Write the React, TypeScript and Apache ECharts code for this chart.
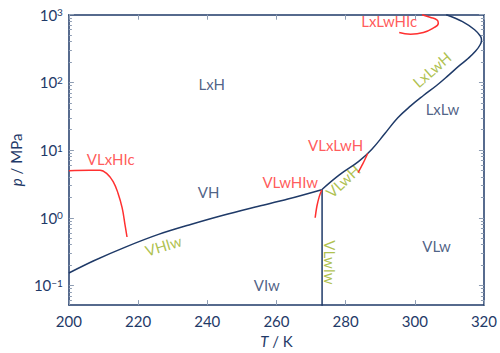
import React, { useEffect, useRef } from 'react';
import * as echarts from 'echarts';

const NAVY = '#1f3a68';
const RED = '#ff3030';
const GREEN = '#9ab11e';
const TICK = '#8e9db3';
const FONT = 'Lato, "Open Sans", sans-serif';

// axis structure
const xMin = 200;
const xMax = 320;
const xStep = 20;
const yDecades = [-1, 0, 1, 2, 3];
const yMinLog = -1.29;
const yMaxLog = 3;

// V-H-Iw (navy)
const vhiwT = [200, 207.2, 216.5, 225.9, 235.2, 244.6, 253.9, 263.3, 273.1];
const vhiwP = [0.153, 0.232, 0.372, 0.568, 0.796, 1.09, 1.44, 1.89, 2.6];

// V-Lw-H / Lx-Lw-H (navy)
const vlwhT = [273.1, 278.2, 283.8, 287.6, 291.3, 295.1, 298.8, 302.5, 306.3, 309.8, 312.8, 315.4, 317.6, 318.9, 319.3, 319.0, 317.3, 313.8, 309.1];
const vlwhP = [2.6, 4.3, 6.8, 10.3, 17.4, 30, 45, 64, 90, 128, 175, 225, 290, 360, 420, 480, 600, 791, 1000];

// V-Lw-Iw (navy, vertical)
const vlwiwT = [273.2, 273.2];
const vlwiwP = [2.6, 0.04];

// red curves
const vlxhicT = [200, 206, 209, 210.9, 212.8, 214.2, 215.4, 216.2, 216.8];
const vlxhicP = [4.97, 5.05, 5.05, 4.53, 3.43, 2.31, 1.4, 0.8, 0.52];

const vlwhiwT = [271.2, 271.7, 272.4, 273.1];
const vlwhiwP = [1.0, 1.48, 2.07, 2.58];

const vlxlwhT = [283.6, 285.0, 286.4];
const vlxlwhP = [4.64, 6.3, 8.9];

const lxlwhicT = [295.5, 298.8, 302.5, 305.3, 306.8, 306.4, 304.4, 302.1];
const lxlwhicP = [546, 516, 546, 633, 748, 837, 917, 1000];

// region / curve labels
const labelTexts = ['LxH', 'VH', 'VIw', 'VLw', 'LxLw', 'VLxHIc', 'VLxLwH', 'VLwHIw', 'LxLwHIc', 'VHIw', 'VLwH', 'LxLwH', 'VLwIw'];
const labelT = [241.3, 240.4, 257.2, 306.3, 308.0, 212.1, 277.1, 264.0, 292.6, 227.3, 279.2, 304.9, 275.4];
const labelP = [95.3, 2.39, 0.103, 0.378, 40.5, 7.38, 11.7, 3.33, 815, 0.388, 3.5, 155, 0.219];
const labelKind = ['region', 'region', 'region', 'region', 'region', 'red', 'red', 'red', 'red', 'green', 'green', 'green', 'green'];
const labelRot = [0, 0, 0, 0, 0, 0, 0, 0, 0, 17, 43, 41, -90];

const toXY = (T: number[], P: number[]) => T.map((t, i) => [t, Math.log10(P[i])]);

const minorLogs: number[] = [];
for (let n = -2; n <= 2; n++) {
  for (let k = 2; k <= 9; k++) {
    const v = Math.log10(k * Math.pow(10, n));
    if (v > yMinLog && v < yMaxLog) minorLogs.push(v);
  }
}

const kindColor: Record<string, string> = { region: NAVY, red: RED, green: GREEN };

export default function App() {
  const ref = useRef<HTMLDivElement>(null);
  useEffect(() => {
    if (!ref.current) return;
    const chart = echarts.init(ref.current, undefined, { renderer: 'svg' });
    const yBase = { type: 'value', min: yMinLog, max: yMaxLog, splitLine: { show: false } };
    const xBase = { type: 'value', min: xMin, max: xMax, interval: xStep, splitLine: { show: false } };
    const lineSeries = (data: number[][], color: string, width = 1.5, smooth: number | boolean = 0.3) => ({
      type: 'line',
      data,
      showSymbol: false,
      symbol: 'none',
      smooth,
      clip: true,
      lineStyle: { color, width },
      silent: true,
    });
    chart.setOption({
      animation: false,
      backgroundColor: '#ffffff',
      textStyle: { fontFamily: FONT },
      grid: { left: 58, right: 14.5, top: 14.7, bottom: 45, containLabel: false },
      xAxis: [
        {
          ...xBase,
          position: 'bottom',
          axisLine: { show: true, onZero: false, lineStyle: { color: NAVY, width: 1.5 } },
          axisTick: { show: true, inside: true, length: 5, lineStyle: { color: TICK } },
          axisLabel: { color: NAVY, fontSize: 15, margin: 8, fontFamily: FONT },
          name: '{i|T}{n| / K}',
          nameLocation: 'middle',
          nameGap: 27,
          nameTextStyle: {
            rich: {
              i: { fontSize: 15, color: NAVY, fontStyle: 'italic', fontFamily: FONT },
              n: { fontSize: 15, color: NAVY, fontFamily: FONT },
            },
          },
        },
        {
          ...xBase,
          position: 'top',
          axisLine: { show: true, onZero: false, lineStyle: { color: NAVY, width: 1.5 } },
          axisTick: { show: true, inside: true, length: 5, lineStyle: { color: TICK } },
          axisLabel: { show: false },
        },
      ],
      yAxis: [
        {
          ...yBase,
          position: 'left',
          axisLine: { show: true, onZero: false, lineStyle: { color: NAVY, width: 1.5 } },
          axisTick: { show: true, inside: true, length: 5, customValues: yDecades, lineStyle: { color: TICK } },
          axisLabel: {
            customValues: yDecades,
            margin: 6,
            formatter: (v: number) => `{b|10}{s|${v < 0 ? '\u2212' + -v : v}}`,
            rich: {
              b: { fontSize: 15, color: NAVY, fontFamily: FONT },
              s: { fontSize: 10, color: NAVY, fontFamily: FONT, verticalAlign: 'top', lineHeight: 12 },
            },
          },
          name: '{i|p}{n| / MPa}',
          nameLocation: 'middle',
          nameRotate: 90,
          nameGap: 33,
          nameTextStyle: {
            rich: {
              i: { fontSize: 15, color: NAVY, fontStyle: 'italic', fontFamily: FONT },
              n: { fontSize: 15, color: NAVY, fontFamily: FONT },
            },
          },
        },
        {
          ...yBase,
          position: 'left',
          axisLine: { show: false, onZero: false },
          axisTick: { show: true, inside: true, length: 3, customValues: minorLogs, lineStyle: { color: TICK } },
          axisLabel: { show: false },
        },
        {
          ...yBase,
          position: 'right',
          axisLine: { show: true, onZero: false, lineStyle: { color: NAVY, width: 1.5 } },
          axisTick: { show: true, inside: true, length: 5, customValues: yDecades, lineStyle: { color: TICK } },
          axisLabel: { show: false },
        },
        {
          ...yBase,
          position: 'right',
          axisLine: { show: false, onZero: false },
          axisTick: { show: true, inside: true, length: 3, customValues: minorLogs, lineStyle: { color: TICK } },
          axisLabel: { show: false },
        },
      ],
      series: [
        lineSeries(toXY(vhiwT, vhiwP), NAVY),
        lineSeries(toXY(vlwhT, vlwhP), NAVY, 1.5, 0.4),
        lineSeries(toXY(vlwiwT, vlwiwP), NAVY, 1.5, false),
        lineSeries(toXY(vlxhicT, vlxhicP), RED, 1.5, 0.4),
        lineSeries(toXY(vlwhiwT, vlwhiwP), RED, 1.5, 0.3),
        lineSeries(toXY(vlxlwhT, vlxlwhP), RED, 1.5, 0.3),
        lineSeries(toXY(lxlwhicT, lxlwhicP), RED, 1.5, 0.5),
        {
          type: 'scatter',
          symbolSize: 0,
          silent: true,
          data: labelTexts.map((t, i) => ({
            value: [labelT[i], Math.log10(labelP[i])],
            label: {
              show: true,
              position: 'inside',
              formatter: t,
              color: kindColor[labelKind[i]],
              rotate: labelRot[i],
              fontSize: 15,
              fontFamily: FONT,
              align: 'center',
              verticalAlign: 'middle',
            },
          })),
        },
      ],
    });
    return () => chart.dispose();
  }, []);
  return <div ref={ref} style={{ position: 'fixed', left: 0, top: 0, width: 500, height: 353, background: '#fff' }} />;
}
